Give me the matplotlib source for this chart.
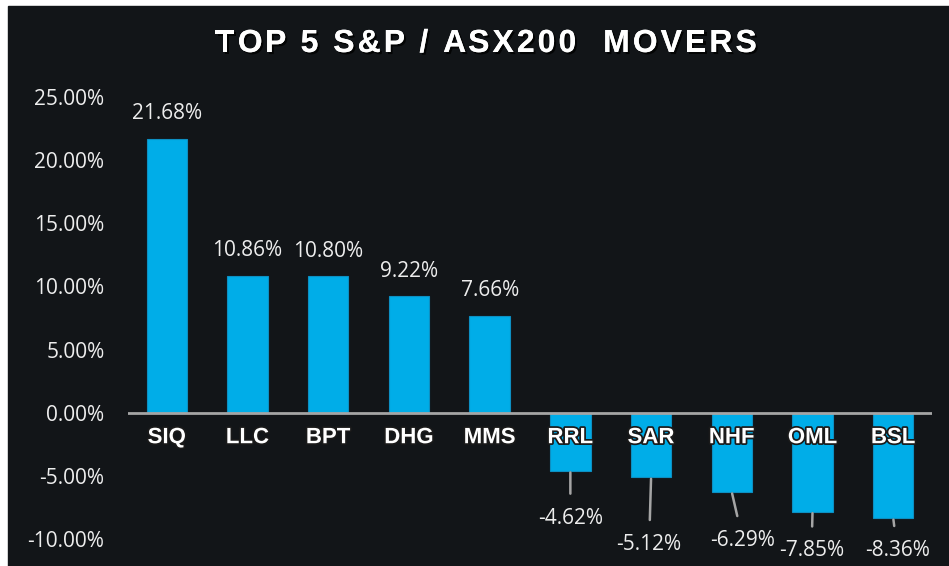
import matplotlib
matplotlib.use("Agg")
import matplotlib.pyplot as plt
import matplotlib.patheffects as pe
from matplotlib.patches import Rectangle
from matplotlib.ticker import FuncFormatter

# data
tickers = ["SIQ", "LLC", "BPT", "DHG", "MMS", "RRL", "SAR", "NHF", "OML", "BSL"]
moves = [21.68, 10.86, 10.80, 9.22, 7.66, -4.62, -5.12, -6.29, -7.85, -8.36]
yticks = [-10, -5, 0, 5, 10, 15, 20, 25]
title = "TOP 5 S&P / ASX200  MOVERS"

# label offsets (pixels) for the negative movers, with leader lines
neg_offsets = {"RRL": (0, -47), "SAR": (-2, -67), "NHF": (11, -48),
               "OML": (-1, -39), "BSL": (4, -32)}

BG = "#121518"
BAR = "#00ADE8"
TXT = "#EDEDED"

fig = plt.figure(figsize=(9.49, 5.66), dpi=100, facecolor="white")
fig.patches.append(Rectangle((8 / 949, 0), 1, (566 - 6) / 566,
                             transform=fig.transFigure, color=BG, zorder=-10))

ax = fig.add_axes([128 / 949, 27 / 566, 804 / 949, 442 / 566])
ax.set_facecolor("none")
ax.set_xlim(-0.48, 9.48)
ax.set_ylim(-10, 25)

x = range(len(tickers))
ax.bar(x, moves, width=0.5, color=BAR, edgecolor="#0d8fc2", lw=0.8, zorder=2)
ax.axhline(0, color="#A5A5A5", lw=2, zorder=3)

for s in ax.spines.values():
    s.set_visible(False)
ax.set_xticks([])
ax.set_yticks(yticks)
ax.yaxis.set_major_formatter(FuncFormatter(lambda v, _: f"{v:.2f}%"))
ax.tick_params(axis="y", length=0, pad=17, labelcolor=TXT)
for lab in ax.get_yticklabels():
    lab.set_fontfamily("Open Sans")
    lab.set_fontsize(15)

stroke = [pe.withStroke(linewidth=2.5, foreground="#1a1a1a")]
for i, (t, v) in enumerate(zip(tickers, moves)):
    ax.annotate(t, (i, 0), xytext=(0, -25), textcoords="offset pixels",
                ha="center", va="center", fontsize=16, fontweight="bold",
                family="Liberation Sans", color="white", zorder=5,
                path_effects=stroke)
    if v >= 0:
        ax.annotate(f"{v:.2f}%", (i, v), xytext=(0, 25), textcoords="offset pixels",
                    ha="center", va="center", fontsize=15, family="Open Sans",
                    color=TXT)
    else:
        dx, dy = neg_offsets[t]
        ax.annotate(f"{v:.2f}%", (i, v), xytext=(dx, dy), textcoords="offset pixels",
                    ha="center", va="center", fontsize=15, family="Open Sans",
                    color=TXT, annotation_clip=False,
                    arrowprops=dict(arrowstyle="-", color="#A5A5A5", lw=1.8,
                                    shrinkA=8, shrinkB=1))

# title with letter spacing: place each character by hand
renderer = fig.canvas.get_renderer()
tprops = dict(fontsize=23, fontweight="bold", family="Liberation Sans")
track = 3.0  # extra pixels between letters


def advance(s):
    a = fig.text(0, 0, s + "x", **tprops)
    b = fig.text(0, 0, "x", **tprops)
    w = a.get_window_extent(renderer).width - b.get_window_extent(renderer).width
    a.remove()
    b.remove()
    return w


total = advance(title) + track * (len(title) - 1)
x0 = 486 - total / 2
shadow = [pe.withSimplePatchShadow(offset=(1.5, -1.5), shadow_rgbFace="black",
                                   alpha=0.8), pe.Normal()]
for k, ch in enumerate(title):
    if ch != " ":
        px = x0 + advance(title[:k]) + track * k
        fig.text(px / 949, 1 - 44 / 566, ch, ha="left", va="center", color="white",
                 path_effects=shadow, **tprops)

fig.savefig("out.png", dpi=100, facecolor="white")
